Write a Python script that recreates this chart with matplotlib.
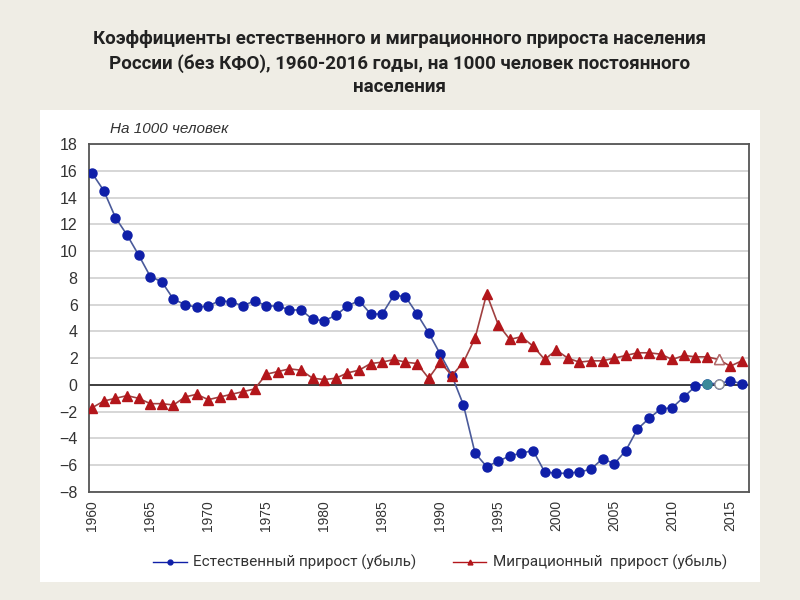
import numpy as np
import matplotlib.pyplot as plt
from matplotlib.patches import Rectangle
from matplotlib.lines import Line2D

years = list(range(1960, 2017))

# естественный прирост (убыль), на 1000 человек
natural = [15.8, 14.5, 12.5, 11.2, 9.7, 8.1, 7.7, 6.4, 6.0, 5.8,
           5.9, 6.3, 6.2, 5.9, 6.3, 5.9, 5.9, 5.6, 5.6, 4.9,
           4.8, 5.2, 5.9, 6.3, 5.3, 5.3, 6.7, 6.6, 5.3, 3.9,
           2.3, 0.7, -1.5, -5.1, -6.1, -5.7, -5.3, -5.1, -4.9, -6.5,
           -6.6, -6.6, -6.5, -6.3, -5.5, -5.9, -4.9, -3.3, -2.5, -1.8,
           -1.7, -0.9, -0.1, 0.1, 0.1, 0.3, 0.1]

# миграционный прирост (убыль), на 1000 человек
migration = [-1.7, -1.2, -1.0, -0.8, -1.0, -1.4, -1.4, -1.5, -0.9, -0.7,
             -1.1, -0.9, -0.7, -0.5, -0.3, 0.8, 1.0, 1.2, 1.1, 0.5,
             0.4, 0.5, 0.9, 1.1, 1.6, 1.7, 1.9, 1.7, 1.6, 0.5,
             1.7, 0.7, 1.7, 3.5, 6.8, 4.5, 3.4, 3.6, 2.9, 1.9,
             2.6, 2.0, 1.7, 1.8, 1.8, 2.0, 2.2, 2.4, 2.4, 2.3,
             1.9, 2.2, 2.1, 2.1, 1.9, 1.4, 1.8]

year_ticks = list(range(1960, 2016, 5))
y_ticks = list(range(-8, 19, 2))

navy = '#0f1fa8'
red = '#b3161b'
narrow_family = ['Roboto', 'DejaVu Sans']

fig = plt.figure(figsize=(8, 6), dpi=100)
fig.patch.set_facecolor('#efede5')
fig.patches.append(Rectangle((0.05, 0.03), 0.9, 0.787, transform=fig.transFigure,
                             facecolor='white', edgecolor='none', zorder=-5))

fig.text(0.5, 0.895, 'Коэффициенты естественного и миграционного прироста населения\n'
         'России (без КФО), 1960-2016 годы, на 1000 человек постоянного\nнаселения',
         ha='center', va='center', fontsize=13.5, fontweight='bold', color='#222222',
         family=narrow_family, linespacing=1.36)

ax = fig.add_axes([0.111, 0.18, 0.825, 0.58])
ax.set_zorder(2)
ax.set_facecolor('white')

ax.plot(years, natural, color='#4a5a9a', lw=1.2, marker='o', ms=6.5,
        mfc=navy, mec=navy, zorder=3)
ax.plot(years, migration, color='#a04040', lw=1.2, marker='^', ms=6.5,
        mfc=red, mec=red, zorder=3)

# отдельные точки 2013-2014
i13 = years.index(2013)
i14 = years.index(2014)
ax.plot(years[i13], natural[i13], 'o', ms=6.5, mfc='#3a8a9a', mec='#3a8a9a', zorder=4)
ax.plot(years[i14], natural[i14], 'o', ms=6.5, mfc='white', mec='#999999', zorder=4)
ax.plot(years[i14], migration[i14], '^', ms=6.5, mfc='white', mec='#b07070', zorder=4)

ax.axhline(0, color='#333333', lw=1.3, zorder=2)
ax.set_ylim(-8, 18)
ax.set_xlim(1959.7, 2016.6)
ax.set_yticks(y_ticks)
ax.set_xticks(year_ticks)
ax.set_xticklabels([str(y) for y in year_ticks], rotation=90)
ax.yaxis.grid(True, color='#d0d0d0', lw=1.2)
ax.set_axisbelow(True)
ax.tick_params(axis='y', length=0, labelsize=11.5, colors='#333333', pad=8)
ax.tick_params(axis='x', length=0, labelsize=10, colors='#333333', pad=6)
for lab in ax.get_xticklabels() + ax.get_yticklabels():
    lab.set_family(['Liberation Sans', 'DejaVu Sans'])
for s in ax.spines.values():
    s.set_color('#555555')
    s.set_linewidth(1.3)

fig.text(0.138, 0.785, 'На 1000 человек', fontsize=11, style='italic', color='#333333',
         family=['Liberation Sans', 'DejaVu Sans'], va='center', zorder=3)

handles = [Line2D([], [], color=navy, lw=1, marker='o', ms=3.5),
           Line2D([], [], color=red, lw=1, marker='^', ms=3.5)]
fig.legend(handles, ['Естественный прирост (убыль)', 'Миграционный  прирост (убыль)'],
           loc='center', bbox_to_anchor=(0.55, 0.062), ncol=2, frameon=False,
           prop={'family': narrow_family, 'size': 11},
           handlelength=2.2, columnspacing=2.4, handletextpad=0.4, labelcolor='#333333')

plt.savefig('out.png', dpi=100, facecolor=fig.get_facecolor())
plt.close()
